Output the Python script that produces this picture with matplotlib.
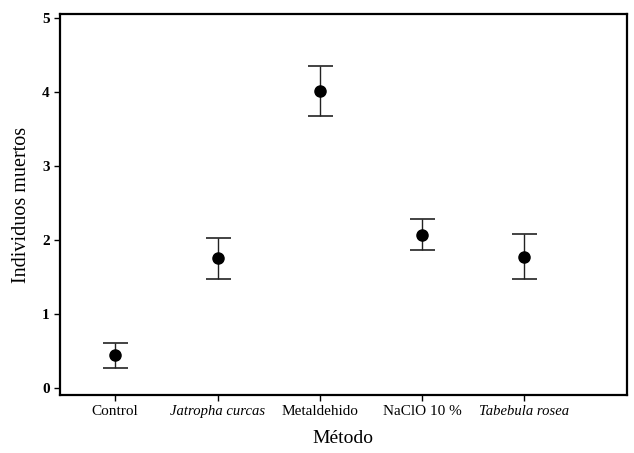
import matplotlib
matplotlib.use("Agg")
import matplotlib.pyplot as plt

categories = ["Control", "Jatropha curcas", "Metaldehido", "NaClO 10 %", "Tabebula rosea"]
italic = [False, True, False, False, True]
means = [0.45, 1.76, 4.01, 2.07, 1.77]
upper = [0.61, 2.03, 4.35, 2.28, 2.08]
lower = [0.27, 1.47, 3.68, 1.86, 1.47]
yticks = [0, 1, 2, 3, 4, 5]

plt.rcParams['font.family'] = ['Liberation Serif', 'DejaVu Serif']

fig = plt.figure(figsize=(6.34, 4.53), dpi=100)
ax = fig.add_axes([0.0946, 0.128, 0.894, 0.841])

x = list(range(len(categories)))
yerr = [[m - l for m, l in zip(means, lower)], [u - m for m, u in zip(means, upper)]]
ax.errorbar(x, means, yerr=yerr, fmt='o', color='black', ecolor='#222222',
            markersize=8, capsize=9, elinewidth=1.0, capthick=1.2)

ax.set_xlim(-0.54, 5.0)
ax.set_ylim(-0.095, 5.054)
ax.set_yticks(yticks)
ax.set_yticklabels([str(t) for t in yticks], fontsize=11, fontweight='bold')
ax.set_xticks(x)
ax.set_xticklabels(categories, fontsize=11)
for lab, it in zip(ax.get_xticklabels(), italic):
    if it:
        lab.set_fontstyle('italic')
        lab.set_fontsize(10.5)
ax.tick_params(axis='both', direction='out', length=4, width=1)
ax.tick_params(axis='x', pad=3)
for s in ax.spines.values():
    s.set_linewidth(1.6)
ax.set_ylabel("Individuos muertos", fontsize=14.5, labelpad=8)
ax.set_xlabel("Método", fontsize=14, labelpad=9)
fig.savefig("out.png", dpi=100)
